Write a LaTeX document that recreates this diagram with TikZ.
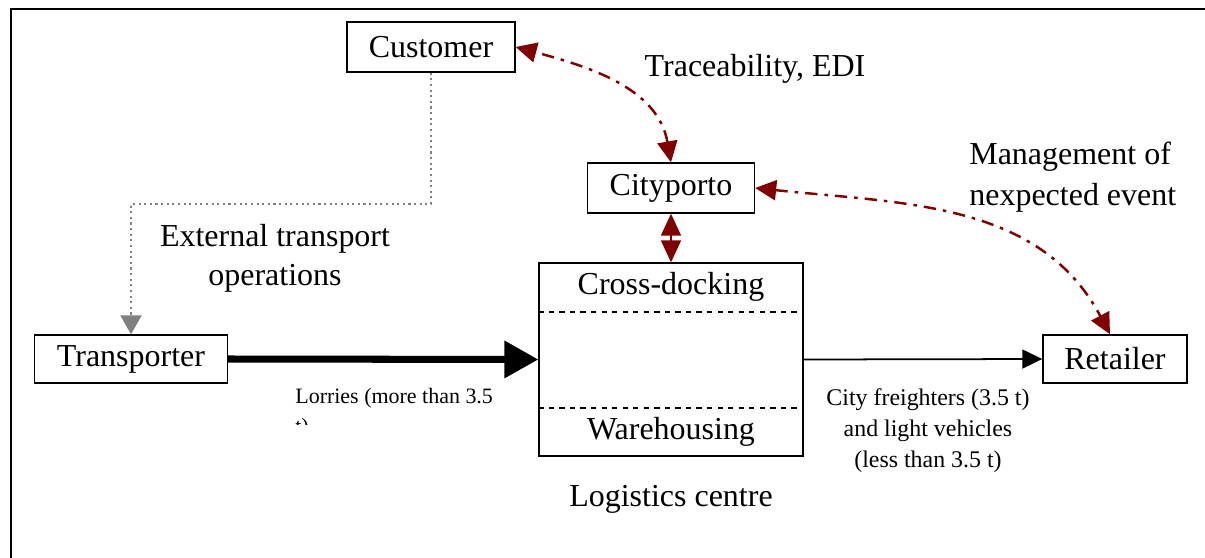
\documentclass[tikz,border=0pt]{standalone}
\usepackage{fontspec}
\setmainfont{Liberation Serif}
\usetikzlibrary{arrows.meta}
\definecolor{darkred}{RGB}{128,0,0}
\definecolor{dotgray}{RGB}{128,128,128}

\begin{document}
\begin{tikzpicture}[x=0.02cm,y=-0.02cm,
  box/.style={draw,line width=0.8pt,inner sep=0pt,font=\fontsize{18.2}{20}\selectfont},
  lbl/.style={inner sep=0pt,font=\fontsize{18.2}{22}\selectfont},
  small/.style={inner sep=0pt,font=\fontsize{13.6}{17.6}\selectfont},
  info/.style={darkred,line width=1.4pt,dash pattern=on 7pt off 4pt on 2pt off 4pt,
    {Triangle[length=0.42cm,width=0.4cm]}-{Triangle[length=0.42cm,width=0.4cm]}}]
\useasboundingbox (0,0) rectangle (1205,558);
\draw[line width=1.4pt] (1220,9) -- (11,9) -- (11,570);

\node[box,minimum width=3.36cm,minimum height=1cm] (cust) at (431,47) {Customer};
\node[box,minimum width=3.34cm,minimum height=1cm] (city) at (671,188) {Cityporto};
\node[box,minimum width=3.86cm,minimum height=0.96cm] (trans) at (131,359) {Transporter};
\node[box,minimum width=2.88cm,minimum height=0.96cm] (ret) at (1115,359) {Retailer};
\node[box,minimum width=5.28cm,minimum height=3.86cm] (lc) at (671,359.5) {};
\draw[dashed,line width=0.8pt] (lc.west |- 0,312) -- (lc.east |- 0,312);
\draw[dashed,line width=0.8pt] (lc.west |- 0,408) -- (lc.east |- 0,408);
\node[lbl] (cross) at (671,287) {Cross-docking};
\node[lbl] (ware) at (671,432) {Warehousing};
\node[lbl] (lcname) at (671,499) {Logistics centre};

\node[lbl] (trace) at (755,69) {Traceability, EDI};
\node[lbl,align=left,anchor=west,font=\fontsize{18.2}{23}\selectfont] (mgmt) at (969,177) {Management of\\nexpected event};
\node[lbl,align=center] (ext) at (275,258) {External transport\\operations};
\begin{scope}
\clip (280,380) rectangle (520,424);
\node[small,anchor=north west,align=left,font=\fontsize{12.5}{17}\selectfont] (lorries) at (295,388) {Lorries (more than 3.5\\t)};
\end{scope}
\node[small,align=center] (cityfr) at (928,431) {City freighters (3.5 t)\\and light vehicles\\(less than 3.5 t)};

\coordinate (bend) at (131,204);
\draw[dotgray,dotted,line width=1.2pt,-{Triangle[length=0.38cm,width=0.42cm]}] (cust.south) |- (bend) -- (trans.north);
\draw[line width=4pt,-{Triangle[length=0.68cm,width=0.72cm]}] (trans.east) -- (lc.west);
\draw[line width=1pt,-{Triangle[length=0.4cm,width=0.38cm]}] (lc.east) -- (ret.west);
\draw[darkred,line width=1pt,{Triangle[length=0.44cm,width=0.4cm]}-{Triangle[length=0.44cm,width=0.4cm]}] (city.south) -- (lc.north);
\draw[info] (city.north) to[out=100,in=-15] (cust.east);
\draw[info] (city.east) to[out=-6,in=118] ([xshift=-0.1cm]ret.north);
\end{tikzpicture}
\end{document}
